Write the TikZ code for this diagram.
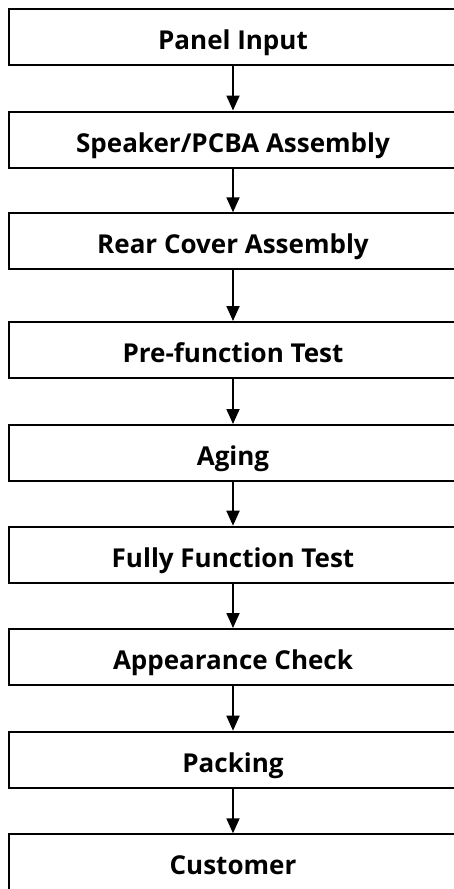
\documentclass[tikz,border=0pt]{standalone}
\usepackage{fontspec}
\newfontfamily\lblfont{Open Sans}
\usetikzlibrary{arrows.meta}
\tikzset{
  stepbox/.style={draw=black, line width=2bp, minimum width=448bp, minimum height=56bp,
    inner sep=0pt, text height=28.5bp, text depth=3.5bp,
    font=\lblfont\bfseries\fontsize{26bp}{30bp}\selectfont, text=black},
  flow/.style={draw=black, line width=1.8bp, -{Triangle[width=13bp,length=15bp]}}
}
\begin{document}
\begin{tikzpicture}[x=1bp, y=-1bp]
\useasboundingbox (0,0) rectangle (454,889);
\clip (0,0) rectangle (454,889);
\node[stepbox] (n1) at (233,37) {Panel Input};
\node[stepbox] (n2) at (233,139.5) {Speaker/PCBA Assembly};
\node[stepbox] (n3) at (233,241.3) {Rear Cover Assembly};
\node[stepbox] (n4) at (233,350) {Pre-function Test};
\node[stepbox] (n5) at (233,453) {Aging};
\node[stepbox] (n6) at (233,554.7) {Fully Function Test};
\node[stepbox] (n7) at (233,657) {Appearance Check};
\node[stepbox] (n8) at (233,759.7) {Packing};
\node[stepbox] (n9) at (233,862.3) {Customer};
\draw[flow] (n1) -- (n2);
\draw[flow] (n2) -- (n3);
\draw[flow] (n3) -- (n4);
\draw[flow] (n4) -- (n5);
\draw[flow] (n5) -- (n6);
\draw[flow] (n6) -- (n7);
\draw[flow] (n7) -- (n8);
\draw[flow] (n8) -- (n9);
\end{tikzpicture}
\end{document}
